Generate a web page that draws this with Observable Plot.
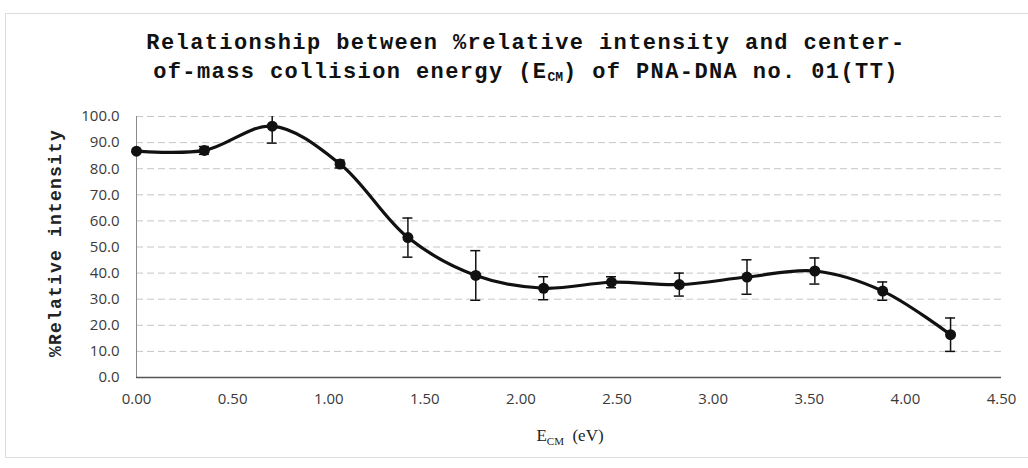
<!DOCTYPE html>
<html>
<head>
<meta charset="utf-8">
<script src="https://cdn.jsdelivr.net/npm/d3@7"></script>
<script src="https://cdn.jsdelivr.net/npm/@observablehq/plot@0.6"></script>
<style>
  html, body { margin: 0; padding: 0; background: #fff; }
  #wrap { position: relative; width: 1028px; height: 468px; overflow: hidden; background: #fff; }
  #frame { position: absolute; left: 5px; top: 13px; width: 1030px; height: 445px; border: 1px solid #dcdcdc; border-right: none; box-sizing: border-box; pointer-events: none; }
  #title { position: relative; height: 100px; box-sizing: border-box; padding-top: 29px; padding-left: 24px;
    text-align: center; font-family: "Liberation Mono", "DejaVu Sans Mono", monospace; font-weight: bold;
    font-size: 22px; line-height: 29px; letter-spacing: 1.4px; color: #111; }
  #title sub { font-size: 13px; vertical-align: -3px; letter-spacing: 0; }
  #chart { position: relative; }
</style>
</head>
<body>
<div id="wrap">
  <div id="frame"></div>
  <div id="title">Relationship between %relative intensity and center-<br>of-mass collision energy (E<sub>CM</sub>) of PNA-DNA no. 01(TT)</div>
  <div id="chart"></div>
</div>
<script>
// Data
const energies = [0.000, 0.353, 0.706, 1.059, 1.412, 1.765, 2.118, 2.471, 2.824, 3.176, 3.529, 3.882, 4.235];
const relIntensity = [86.7, 87.0, 96.3, 81.8, 53.6, 39.1, 34.2, 36.5, 35.6, 38.5, 40.8, 33.1, 16.4];
const errors = [0.0, 1.5, 6.5, 1.5, 7.5, 9.5, 4.4, 2.1, 4.4, 6.6, 5.0, 3.5, 6.4];
const xTicks = [0, 0.5, 1, 1.5, 2, 2.5, 3, 3.5, 4, 4.5];
const yTicks = [0, 10, 20, 30, 40, 50, 60, 70, 80, 90, 100];

const data = energies.map((x, i) => ({x, y: relIntensity[i], e: errors[i]}));
const capHalf = 0.026; // cap half-width in x units (style)

const W = 1028, H = 368;
const plot = Plot.plot({
  width: W,
  height: H,
  marginLeft: 136,
  marginRight: 27,
  marginTop: 16,
  marginBottom: 91,
  style: { background: "transparent", fontFamily: "'Open Sans', 'Liberation Sans', sans-serif", fontSize: "15px", color: "#3a3a3a" },
  x: { domain: [0, 4.5], ticks: xTicks, tickFormat: d3.format(".2f"), tickSize: 0, tickPadding: 16, label: null },
  y: { domain: [0, 100], ticks: yTicks, tickFormat: d3.format(".1f"), tickSize: 0, tickPadding: 17, label: null },
  marks: [
    Plot.gridY(yTicks.filter(d => d > 0), { stroke: "#a0a0a0", strokeOpacity: 0.6, strokeDasharray: "7,4", strokeWidth: 1 }),
    Plot.ruleX([0], { stroke: "#8a8a8a", strokeWidth: 1 }),
    Plot.ruleY([0], { stroke: "#555", strokeWidth: 1.3 }),
    Plot.axisX({ ticks: xTicks, tickFormat: d3.format(".2f"), tickSize: 0, tickPadding: 16, label: null }),
    Plot.axisY({ ticks: yTicks, tickFormat: d3.format(".1f"), tickSize: 0, tickPadding: 17, label: null }),
    Plot.ruleX(data.filter(d => d.e > 0), { x: "x", y1: d => d.y - d.e, y2: d => d.y + d.e, stroke: "#111", strokeWidth: 1.5, clip: true }),
    Plot.ruleY(data.filter(d => d.e > 0 && d.y + d.e <= 100), { y: d => d.y + d.e, x1: d => d.x - capHalf, x2: d => d.x + capHalf, stroke: "#111", strokeWidth: 1.5 }),
    Plot.ruleY(data.filter(d => d.e > 0), { y: d => d.y - d.e, x1: d => d.x - capHalf, x2: d => d.x + capHalf, stroke: "#111", strokeWidth: 1.5 }),
    Plot.line(data, { x: "x", y: "y", curve: "catmull-rom", stroke: "#111", strokeWidth: 3.2 }),
    Plot.dot(data, { x: "x", y: "y", r: 5.5, fill: "#111", stroke: "none" })
  ]
});
document.getElementById("chart").appendChild(plot);

const svg = d3.select(plot);
// Y axis title
svg.append("text")
  .attr("transform", `translate(${61},${143}) rotate(-90)`)
  .attr("text-anchor", "middle")
  .style("font-family", "'Liberation Mono', 'DejaVu Sans Mono', monospace")
  .style("font-weight", "bold")
  .style("font-size", "18px")
  .style("letter-spacing", "1.2px")
  .style("fill", "#222")
  .text("%Relative intensity");

// X axis title with subscript
const xt = svg.append("text")
  .attr("x", 570)
  .attr("y", 341)
  .attr("text-anchor", "middle")
  .style("font-family", "'Liberation Serif', 'DejaVu Serif', serif")
  .style("font-size", "17px")
  .style("fill", "#222");
xt.append("tspan").text("E");
xt.append("tspan").attr("dy", 4).style("font-size", "11px").text("CM");
xt.append("tspan").attr("dy", -4).text("  (eV)").attr("xml:space", "preserve").style("white-space", "pre");
</script>
</body>
</html>
